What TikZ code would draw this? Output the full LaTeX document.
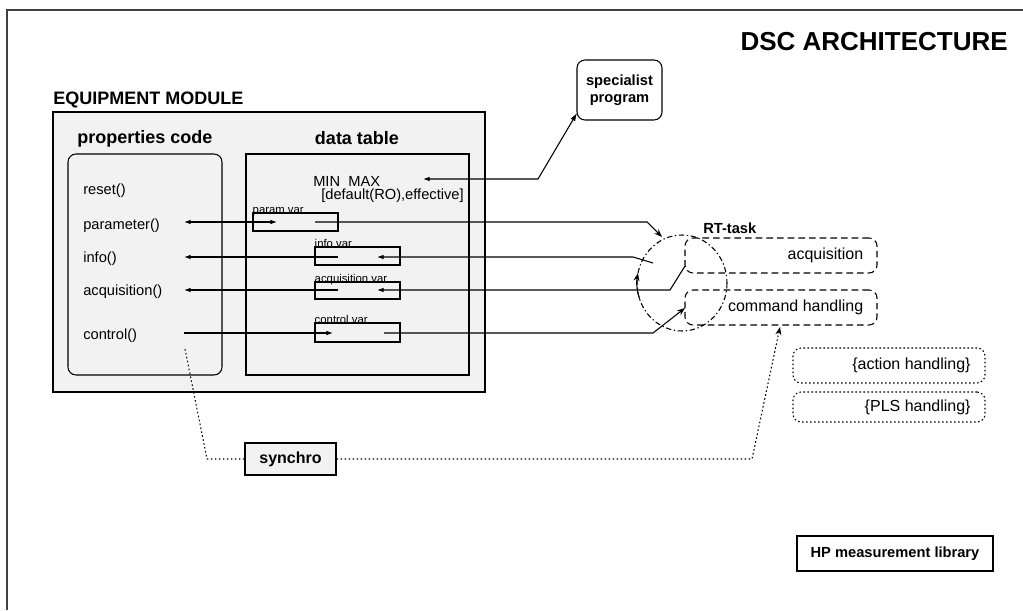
\documentclass[tikz,border=0pt]{standalone}
\usepackage{fontspec}
\setmainfont{Liberation Sans}
\usetikzlibrary{arrows.meta,fit,positioning}

\definecolor{panelgray}{RGB}{242,242,242}

\tikzset{
  link/.style={line width=0.8pt},
  tip/.style={-{Latex[length=5pt,width=3.5pt]}},
  rttip/.style={-{Stealth[length=6pt,width=4.5pt]}},
  syncline/.style={line width=0.8pt, dash pattern=on 1.2pt off 1.8pt},
  panel/.style={draw, fill=panelgray, line width=1.1pt, inner sep=0pt},
  subpanel/.style={draw, line width=0.8pt, inner sep=0pt},
  varbox/.style={draw, line width=0.8pt, inner sep=0pt},
  rtbox/.style={draw, line width=0.8pt, dash pattern=on 5pt off 3pt, rounded corners=6pt, inner sep=0pt},
  optbox/.style={draw, line width=0.8pt, dash pattern=on 1.2pt off 1.8pt, rounded corners=6pt, inner sep=0pt},
  heading/.style={font=\bfseries\fontsize{13.5}{15}\selectfont, inner sep=0pt},
  boldtext/.style={font=\bfseries\fontsize{11}{13}\selectfont, inner sep=0pt},
  plain/.style={font=\fontsize{11}{13}\selectfont, inner sep=0pt},
  tasktext/.style={font=\fontsize{12}{14}\selectfont, inner sep=0pt},
  varlabel/.style={font=\fontsize{8.5}{9}\selectfont, inner sep=0pt},
}

\begin{document}
\begin{tikzpicture}[x=0.75pt, y=-0.75pt]

    % Page and the cut-off outer frame
    \useasboundingbox[fill=white] (0,0) rectangle (1023,610);
    \draw[line width=1.5pt, black!75] (7,610) -- (7,10) -- (1023,10);

    % Titles
    \node[font=\bfseries\fontsize{19.5}{22}\selectfont, anchor=east, inner sep=0pt] (title) at (1008,42) {DSC ARCHITECTURE};
    \node[heading, anchor=west] (eqtitle) at (53,100) {EQUIPMENT MODULE};

    % Equipment module with its two parts
    \node[panel, fit={(53,112) (485,392)}] (eqmod) {};
    \node[subpanel, rounded corners=6pt, fit={(68,154) (222,375)}] (props) {};
    \node[subpanel, fit={(246,154) (469,375)}] (table) {};
    \node[heading] (propstitle) at (145,139) {properties code};
    \node[heading] (tabletitle) at (357,138) {data table};

    % Property methods
    \node[plain, anchor=west] (m-reset) at (83,191) {reset()};
    \node[plain, anchor=west] (m-param) at (83,226) {parameter()};
    \node[plain, anchor=west] (m-info) at (83,259) {info()};
    \node[plain, anchor=west] (m-acq) at (83,292) {acquisition()};
    \node[plain, anchor=west] (m-ctrl) at (83,336) {control()};

    % Data table entries
    \node[plain, anchor=west] (minmax) at (313,181) {MIN\ \ MAX};
    \node[plain, anchor=west] (range) at (321,196) {[default(RO),effective]};
    \node[varbox, fit={(253,213) (338,231)}] (parvar) {};
    \node[varbox, fit={(315,247) (400,265)}] (infovar) {};
    \node[varbox, fit={(315,282) (400,299)}] (acqvar) {};
    \node[varbox, fit={(315,323) (400,342)}] (ctrlvar) {};
    \node[varlabel, anchor=base west] (parvar-lbl) at ([yshift=-1]parvar.north west) {param var};
    \node[varlabel, anchor=base west] (infovar-lbl) at ([yshift=-1]infovar.north west) {info var};
    \node[varlabel, anchor=base west] (acqvar-lbl) at ([yshift=-1]acqvar.north west) {acquisition var};
    \node[varlabel, anchor=base west] (ctrlvar-lbl) at ([yshift=-1]ctrlvar.north west) {control var};

    % Specialist program
    \node[draw, line width=0.8pt, rounded corners=6pt, inner sep=0pt, fit={(577,60) (662,120)}] (spec) {};
    \node[boldtext, align=center] (spectext) at (spec.center) {specialist\\program};
    \coordinate (mmTip) at (423,179);
    \coordinate (mmBend) at (538,179);
    \coordinate (specIn) at (577,113);
    \draw[link, {Latex[length=5pt,width=3.5pt]}-{Latex[length=6pt,width=4pt]}] (mmTip) -- (mmBend) -- (specIn);

    % RT-task
    \node[boldtext, anchor=west] (rttitle) at (703,228) {RT-task};
    \node[rtbox, fit={(685,238) (877,273)}] (acqtask) {};
    \node[rtbox, fit={(685,290) (877,325)}] (cmdtask) {};
    \node[tasktext, anchor=east] (acqtext) at ([xshift=-10.5pt]acqtask.east) {acquisition};
    \node[tasktext, anchor=east] (cmdtext) at ([xshift=-10.5pt]cmdtask.east) {command handling};
    \coordinate (loop) at (682,283);
    \draw[line width=0.8pt, dash pattern=on 4pt off 2pt on 1pt off 2pt] (loop) ellipse [x radius=45, y radius=48];
    \draw[line width=0.8pt, rttip] ([shift={(160:45 and 48)}]loop) arc [start angle=160, end angle=192, x radius=45, y radius=48];

    % Optional handlers
    \node[optbox, fit={(793,348) (985,383)}] (actbox) {};
    \node[optbox, fit={(793,392) (985,422)}] (plsbox) {};
    \node[tasktext, anchor=east] (acttext) at ([xshift=-11pt]actbox.east) {\{action handling\}};
    \node[tasktext, anchor=east] (plstext) at ([xshift=-11pt]plsbox.east) {\{PLS handling\}};

    % Row points
    \coordinate (parTip) at (184,222);  \coordinate (parIn) at (277,222);
    \coordinate (parOut) at (315,222);  \coordinate (parBend) at (647,222);  \coordinate (parEnd) at (662,237);
    \coordinate (infoTip) at (184,257); \coordinate (infoIn) at (338,257);
    \coordinate (infoOut) at (377,257); \coordinate (infoBend) at (633,257); \coordinate (infoEnd) at (653,263);
    \coordinate (acqTip) at (184,290);  \coordinate (acqIn) at (338,290);
    \coordinate (acqOut) at (377,290);  \coordinate (acqBend) at (670,290);  \coordinate (acqEnd) at (685,266);
    \coordinate (ctrlTip) at (184,333); \coordinate (ctrlIn) at (333,333);
    \coordinate (ctrlOut) at (384,333); \coordinate (ctrlBend) at (653,333); \coordinate (ctrlEnd) at (685,308);

    % Connections between code, table and RT-task
    \draw[link, {Latex[length=5pt,width=3.5pt]}-{Latex[length=5pt,width=3.5pt]}] (parTip) -- (parIn);
    \draw[link, rttip] (parOut) -- (parBend) -- (parEnd);
    \draw[link, {Latex[length=5pt,width=3.5pt]}-] (infoTip) -- (infoIn);
    \draw[link, {Latex[length=5pt,width=3.5pt]}-] (infoOut) -- (infoBend) -- (infoEnd);
    \draw[link, {Latex[length=5pt,width=3.5pt]}-] (acqTip) -- (acqIn);
    \draw[link, {Latex[length=5pt,width=3.5pt]}-] (acqOut) -- (acqBend) -- (acqEnd);
    \draw[link, tip] (ctrlTip) -- (ctrlIn);
    \draw[link, rttip] (ctrlOut) -- (ctrlBend) -- (ctrlEnd);

    % Synchro
    \node[panel, line width=0.9pt, fit={(245,443) (336,475)}] (synchro) {};
    \node[font=\bfseries\fontsize{12}{14}\selectfont, inner sep=0pt] (synctext) at (synchro.center) {synchro};
    \coordinate (syncStart) at (185,349);
    \coordinate (syncBend) at (207,459);
    \coordinate (syncBendR) at (752,459);
    \coordinate (cmdIn) at (780,327);
    \draw[syncline] (syncStart) -- (syncBend) -- (synchro.west);
    \draw[syncline, rttip] (synchro.east) -- (syncBendR) -- (cmdIn);

    % HP measurement library
    \node[draw, line width=1pt, inner sep=0pt, fit={(797,536) (993,571)}] (hplib) {};
    \node[boldtext] (hptext) at (hplib.center) {HP measurement library};

\end{tikzpicture}
\end{document}
